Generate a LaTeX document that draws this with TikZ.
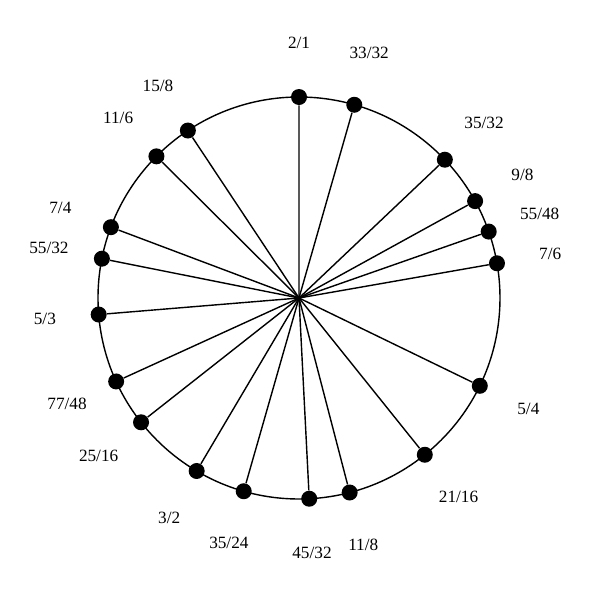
\documentclass[tikz,border=0pt]{standalone}
\usepackage{fontspec}
\setmainfont{Liberation Serif}
\tikzset{ratioDot/.style = {circle, fill=black, inner sep=0pt, minimum size=0.32cm}}
\tikzset{ratioLabel/.style = {font=\fontsize{9.8}{11}\selectfont}}
\tikzset{spoke/.style = {line width=0.8pt}}
\newcommand{\circleRadius}{4.02}
\newcommand{\labelRadius}{5.1}
\newcommand{\ratioPoint}[3]{
  \pgfmathsetmacro{\ang}{90 - 360 * ln(#1/#2) / ln(2)}
  \node [ratioDot] (dot#3) at (\ang:\circleRadius) {};
  \node [ratioLabel] (lab#3) at (\ang:\labelRadius) {#1/#2};
  \draw [spoke] (center) -- (dot#3);
}

\begin{document}
\begin{tikzpicture}
  \useasboundingbox (-5.98,-6.04) rectangle (6.02,5.96);
  \coordinate (center) at (0,0);
  \draw [spoke] (center) circle (\circleRadius);
  \foreach \p/\q/\n in {2/1/a,33/32/b,35/32/c,9/8/d,55/48/e,7/6/f,5/4/g,21/16/h,11/8/i,45/32/j,35/24/k,3/2/l,25/16/m,77/48/n,5/3/o,55/32/p,7/4/q,11/6/r,15/8/s} {
    \ratioPoint{\p}{\q}{\n}
  }
\end{tikzpicture}
\end{document}
